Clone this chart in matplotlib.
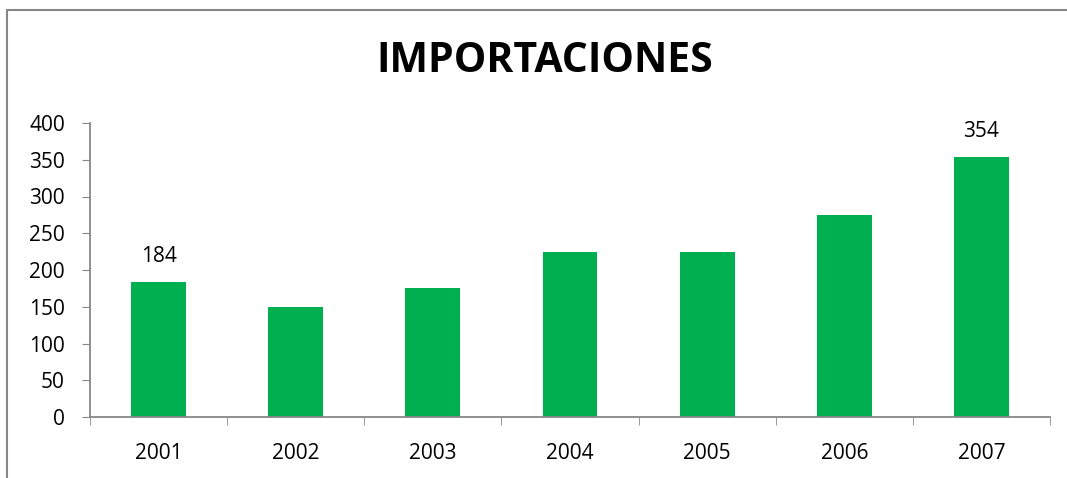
import matplotlib.pyplot as plt
from matplotlib.patches import Rectangle

# data
years = ['2001', '2002', '2003', '2004', '2005', '2006', '2007']
imports = [184, 150, 175, 225, 225, 275, 354]
labelled = {0: '184', 6: '354'}
y_ticks = [0, 50, 100, 150, 200, 250, 300, 350, 400]

plt.rcParams['font.family'] = ['Open Sans', 'DejaVu Sans']

W, H = 1067, 478
fig = plt.figure(figsize=(W / 100, H / 100), dpi=100)
fig.patch.set_facecolor('white')

# chart area border (cut off at right and bottom)
fig.patches.append(Rectangle((7 / W, -0.1), 1.2, 1 - 10 / H + 0.1,
                             transform=fig.transFigure, fill=False,
                             edgecolor='#878787', linewidth=1.5))

ax = fig.add_axes([90 / W, 1 - 417 / H, (1050 - 90) / W, (417 - 123) / H])
x = list(range(len(years)))
ax.bar(x, imports, width=0.4, color='#00B050')

for i, txt in labelled.items():
    ax.text(i, imports[i] + 20, txt, ha='center', va='bottom', fontsize=15)

ax.set_xlim(-0.5, len(years) - 0.5)
ax.set_ylim(0, 400)
ax.set_yticks(y_ticks)
ax.set_xticks(x)
ax.set_xticklabels(years)
ax.set_xticks([i - 0.5 for i in range(len(years) + 1)], minor=True)
ax.tick_params(axis='x', which='major', length=0, pad=19, labelsize=15)
ax.tick_params(axis='x', which='minor', length=6, color='#878787', direction='out')
ax.tick_params(axis='y', length=6, color='#878787', labelsize=15, pad=12)

for side in ['top', 'right']:
    ax.spines[side].set_visible(False)
for side in ['left', 'bottom']:
    ax.spines[side].set_color('#878787')
    ax.spines[side].set_linewidth(1.3)

fig.text(545 / W, 1 - 62 / H, 'IMPORTACIONES', ha='center', va='center',
         fontsize=29.5, fontweight='bold')

fig.savefig('out.png', dpi=100)
